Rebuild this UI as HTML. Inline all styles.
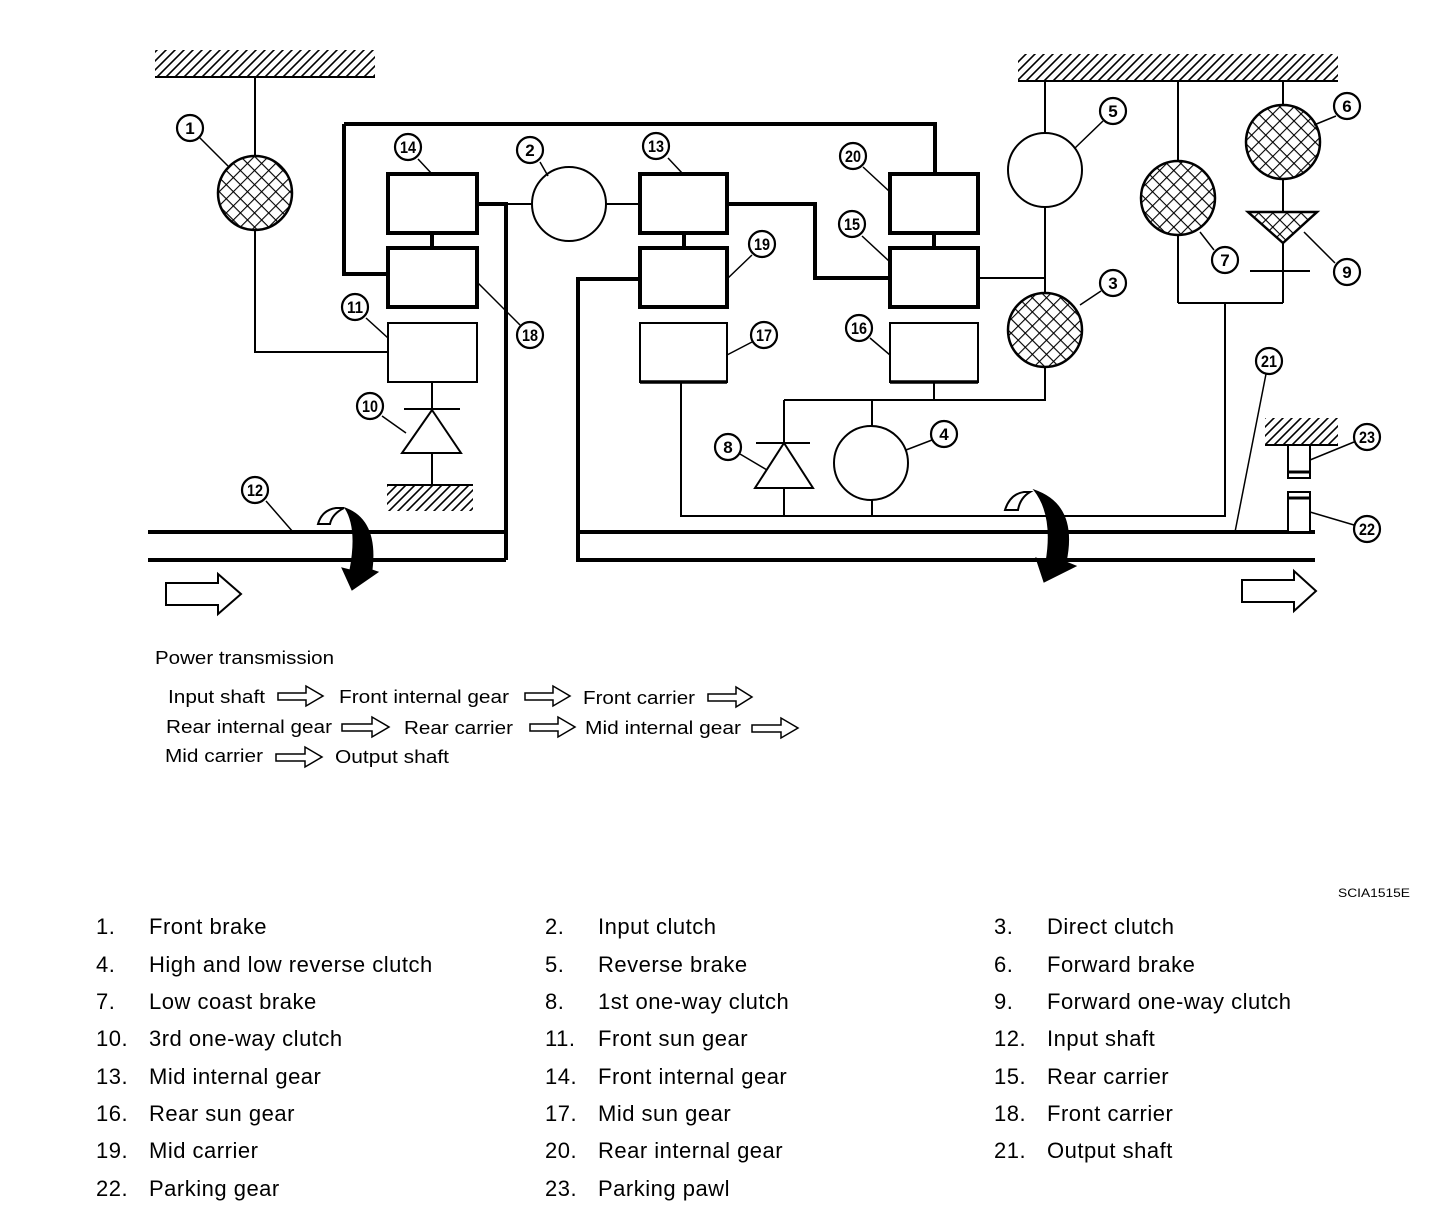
<!DOCTYPE html>
<html><head><meta charset="utf-8"><style>
html,body{margin:0;padding:0;background:#fff;}
svg{display:block;}
text{font-family:"Liberation Sans",sans-serif;fill:#000;}
.n{font-weight:bold;font-size:17px;text-anchor:middle;}
.l{font-size:22px;letter-spacing:0.5px;}
</style></head><body>
<svg width="1456" height="1224" viewBox="0 0 1456 1224" xmlns="http://www.w3.org/2000/svg">
<defs>
<pattern id="h" width="9" height="9" patternUnits="userSpaceOnUse">
<path d="M-2,11 L11,-2 M-2,2 L2,-2 M7,11 L11,7" stroke="#000" stroke-width="1.6"/>
</pattern>
<pattern id="x" width="10" height="10" patternUnits="userSpaceOnUse" patternTransform="rotate(45)">
<rect width="10" height="10" fill="#fff"/>
<path d="M0,0 H10 M0,0 V10" stroke="#000" stroke-width="2.2"/>
</pattern>
</defs>
<g fill="none" stroke="#000">
<rect x="155" y="50" width="220" height="27" fill="url(#h)" stroke="none"/>
<line x1="155" y1="77" x2="375" y2="77" stroke-width="2"/>
<rect x="1018" y="54" width="320" height="26" fill="url(#h)" stroke="none"/>
<line x1="1018" y1="81" x2="1338" y2="81" stroke-width="2"/>
<rect x="387" y="485" width="86" height="26" fill="url(#h)" stroke="none"/>
<line x1="387" y1="485" x2="473" y2="485" stroke-width="2"/>
<rect x="1265" y="418" width="73" height="26" fill="url(#h)" stroke="none"/>
<line x1="1265" y1="445" x2="1338" y2="445" stroke-width="2"/>

<g stroke-width="2">
<path d="M255,77 V352 H388"/>
<path d="M432,382 V410 M404,409 H460 M432,453 V485"/>
<path d="M506,204 H606 M606,204 H640"/>
<path d="M1045,81 V400 H784 M934,382 V400 M978,278 H1045"/>
<path d="M784,400 V516 M756,443 H810 M872,400 V516"/>
<path d="M681,382 V516 H1225 V303 M1178,303 H1283"/>
<path d="M1178,81 V303 M1283,81 V303 M1250,271 H1310"/>
</g>
<g stroke-width="4">
<path d="M344,124 H935 V174 M344,124 V274 H388"/>
<path d="M477,204 H506 V560 M148,532 H506 M148,560 H506"/>
<path d="M432,233 V248 M684,233 V248 M934,233 V248"/>
<path d="M640,279 H578 V560 H1315 M578,532 H1315"/>
<path d="M727,204 H815 V278 H890"/>
</g>
<g stroke-width="4" fill="#fff">
<rect x="388" y="174" width="89" height="59"/>
<rect x="388" y="248" width="89" height="59"/>
<rect x="640" y="174" width="87" height="59"/>
<rect x="640" y="248" width="87" height="59"/>
<rect x="890" y="174" width="88" height="59"/>
<rect x="890" y="248" width="88" height="59"/>
</g>
<g stroke-width="2" fill="#fff">
<rect x="388" y="323" width="89" height="59"/>
<rect x="640" y="323" width="87" height="59"/>
<rect x="890" y="323" width="88" height="59"/>
<path d="M640,382 H727 M890,382 H978" stroke-width="3.5"/>
</g>
<g stroke-width="2" fill="#fff">
<circle cx="569" cy="204" r="37"/>
<circle cx="1045" cy="170" r="37"/>
<circle cx="871" cy="463" r="37"/>
</g>
<g stroke-width="2.5" fill="url(#x)">
<circle cx="255" cy="193" r="37"/>
<circle cx="1045" cy="330" r="37"/>
<circle cx="1178" cy="198" r="37"/>
<circle cx="1283" cy="142" r="37"/>
<path d="M1248,212 H1317 L1283,243 Z"/>
</g>
<g stroke-width="2" fill="#fff">
<path d="M432,410 L461,453 H402 Z"/>
<path d="M784,443 L813,488 H755 Z"/>
</g>
<g stroke-width="2" fill="#fff">
<rect x="1288" y="445" width="22" height="33"/>
<rect x="1288" y="492" width="22" height="40"/>
<path d="M1288,472 H1310 M1288,498 H1310" stroke-width="3"/>
</g>
<path d="M166,583 H218 V574 L241,594 L218,614 V605 H166 Z" stroke-width="2" fill="#fff"/>
<path d="M1242,580 H1294 V571 L1316,591 L1294,611 V602 H1242 Z" stroke-width="2" fill="#fff"/>
<path d="M318,524 Q322,510 336,508 L344,508 Q332,514 330,524 Z" stroke-width="2" fill="#fff"/>
<path d="M345,508 Q378,520 372,570 L378,572 L352,590 L342,568 L350,570 Q358,528 345,508 Z" fill="#000" stroke="#000" stroke-width="1"/>
<path d="M1005,510 Q1010,494 1024,492 L1030,492 Q1020,498 1018,510 Z" stroke-width="2" fill="#fff"/>
<path d="M1034,490 Q1078,505 1066,562 L1076,566 L1044,582 L1036,558 L1046,562 Q1054,515 1034,490 Z" fill="#000" stroke="#000" stroke-width="1"/>

<g stroke-width="1.5">
<path d="M199,137 L228,166 M418,159 L432,174 M540,162 L548,176 M668,158 L683,174 M863,167 L890,192 M862,236 L890,262 M752,255 L727,279 M752,342 L727,355 M870,338 L890,355 M520,325 L477,282 M366,318 L388,338 M382,416 L406,433 M266,501 L293,532"/>
<path d="M1103,121 L1075,148 M1336,116 L1314,125 M1101,291 L1080,305 M1214,250 L1200,232 M1335,263 L1304,232 M932,440 L906,450 M740,454 L767,470 M1266,374 L1235,532 M1354,442 L1310,460 M1354,525 L1310,512"/>
</g>
<g stroke-width="2.2" fill="#fff">
<circle cx="190" cy="128" r="13"/><circle cx="408" cy="147" r="13"/><circle cx="530" cy="150" r="13"/>
<circle cx="656" cy="146" r="13"/><circle cx="853" cy="156" r="13"/><circle cx="852" cy="224" r="13"/>
<circle cx="762" cy="244" r="13"/><circle cx="764" cy="335" r="13"/><circle cx="859" cy="328" r="13"/>
<circle cx="530" cy="335" r="13"/><circle cx="355" cy="307" r="13"/><circle cx="370" cy="406" r="13"/>
<circle cx="255" cy="490" r="13"/><circle cx="1113" cy="111" r="13"/><circle cx="1347" cy="106" r="13"/>
<circle cx="1113" cy="283" r="13"/><circle cx="1225" cy="260" r="13"/><circle cx="1347" cy="272" r="13"/>
<circle cx="944" cy="434" r="13"/><circle cx="728" cy="447" r="13"/><circle cx="1269" cy="361" r="13"/>
<circle cx="1367" cy="437" r="13"/><circle cx="1367" cy="529" r="13"/>
</g>
<g stroke-width="1.5" fill="#fff">
<path d="M278,693 H306 V686 L323,696 L306,706 V700 H278 Z"/>
<path d="M525,693 H553 V686 L570,696 L553,706 V700 H525 Z"/>
<path d="M708,694 H736 V687 L752,697 L736,707 V701 H708 Z"/>
<path d="M342,724 H372 V717 L389,727 L372,737 V731 H342 Z"/>
<path d="M530,724 H558 V717 L575,727 L558,737 V731 H530 Z"/>
<path d="M752,725 H781 V718 L798,728 L781,738 V732 H752 Z"/>
<path d="M276,754 H305 V747 L322,757 L305,767 V761 H276 Z"/>
</g>
</g>
<g class="n">
<text x="190" y="134">1</text><text x="408" y="153" textLength="16" lengthAdjust="spacingAndGlyphs">14</text><text x="530" y="156">2</text>
<text x="656" y="152" textLength="16" lengthAdjust="spacingAndGlyphs">13</text><text x="853" y="162" textLength="16" lengthAdjust="spacingAndGlyphs">20</text><text x="852" y="230" textLength="16" lengthAdjust="spacingAndGlyphs">15</text>
<text x="762" y="250" textLength="16" lengthAdjust="spacingAndGlyphs">19</text><text x="764" y="341" textLength="16" lengthAdjust="spacingAndGlyphs">17</text><text x="859" y="334" textLength="16" lengthAdjust="spacingAndGlyphs">16</text>
<text x="530" y="341" textLength="16" lengthAdjust="spacingAndGlyphs">18</text><text x="355" y="313" textLength="16" lengthAdjust="spacingAndGlyphs">11</text><text x="370" y="412" textLength="16" lengthAdjust="spacingAndGlyphs">10</text>
<text x="255" y="496" textLength="16" lengthAdjust="spacingAndGlyphs">12</text><text x="1113" y="117">5</text><text x="1347" y="112">6</text>
<text x="1113" y="289">3</text><text x="1225" y="266">7</text><text x="1347" y="278">9</text>
<text x="944" y="440">4</text><text x="728" y="453">8</text><text x="1269" y="367" textLength="16" lengthAdjust="spacingAndGlyphs">21</text>
<text x="1367" y="443" textLength="16" lengthAdjust="spacingAndGlyphs">23</text><text x="1367" y="535" textLength="16" lengthAdjust="spacingAndGlyphs">22</text>
</g>
<g style="font-size:18px">
<text x="155" y="664" textLength="179" lengthAdjust="spacingAndGlyphs">Power transmission</text>
<text x="168" y="703" textLength="97" lengthAdjust="spacingAndGlyphs">Input shaft</text>
<text x="339" y="703" textLength="170" lengthAdjust="spacingAndGlyphs">Front internal gear</text>
<text x="583" y="704" textLength="112" lengthAdjust="spacingAndGlyphs">Front carrier</text>
<text x="166" y="733" textLength="166" lengthAdjust="spacingAndGlyphs">Rear internal gear</text>
<text x="404" y="734" textLength="109" lengthAdjust="spacingAndGlyphs">Rear carrier</text>
<text x="585" y="734" textLength="156" lengthAdjust="spacingAndGlyphs">Mid internal gear</text>
<text x="165" y="762" textLength="98" lengthAdjust="spacingAndGlyphs">Mid carrier</text>
<text x="335" y="763" textLength="114" lengthAdjust="spacingAndGlyphs">Output shaft</text>
</g>
<text x="1338" y="897" style="font-size:12px" textLength="72" lengthAdjust="spacingAndGlyphs">SCIA1515E</text>
<g class="l">
<text x="96" y="934">1.</text><text x="149" y="934">Front brake</text>
<text x="545" y="934">2.</text><text x="598" y="934">Input clutch</text>
<text x="994" y="934">3.</text><text x="1047" y="934">Direct clutch</text>
<text x="96" y="972">4.</text><text x="149" y="972">High and low reverse clutch</text>
<text x="545" y="972">5.</text><text x="598" y="972">Reverse brake</text>
<text x="994" y="972">6.</text><text x="1047" y="972">Forward brake</text>
<text x="96" y="1009">7.</text><text x="149" y="1009">Low coast brake</text>
<text x="545" y="1009">8.</text><text x="598" y="1009">1st one-way clutch</text>
<text x="994" y="1009">9.</text><text x="1047" y="1009">Forward one-way clutch</text>
<text x="96" y="1046">10.</text><text x="149" y="1046">3rd one-way clutch</text>
<text x="545" y="1046">11.</text><text x="598" y="1046">Front sun gear</text>
<text x="994" y="1046">12.</text><text x="1047" y="1046">Input shaft</text>
<text x="96" y="1084">13.</text><text x="149" y="1084">Mid internal gear</text>
<text x="545" y="1084">14.</text><text x="598" y="1084">Front internal gear</text>
<text x="994" y="1084">15.</text><text x="1047" y="1084">Rear carrier</text>
<text x="96" y="1121">16.</text><text x="149" y="1121">Rear sun gear</text>
<text x="545" y="1121">17.</text><text x="598" y="1121">Mid sun gear</text>
<text x="994" y="1121">18.</text><text x="1047" y="1121">Front carrier</text>
<text x="96" y="1158">19.</text><text x="149" y="1158">Mid carrier</text>
<text x="545" y="1158">20.</text><text x="598" y="1158">Rear internal gear</text>
<text x="994" y="1158">21.</text><text x="1047" y="1158">Output shaft</text>
<text x="96" y="1196">22.</text><text x="149" y="1196">Parking gear</text>
<text x="545" y="1196">23.</text><text x="598" y="1196">Parking pawl</text>
</g>
</svg>
</body></html>
